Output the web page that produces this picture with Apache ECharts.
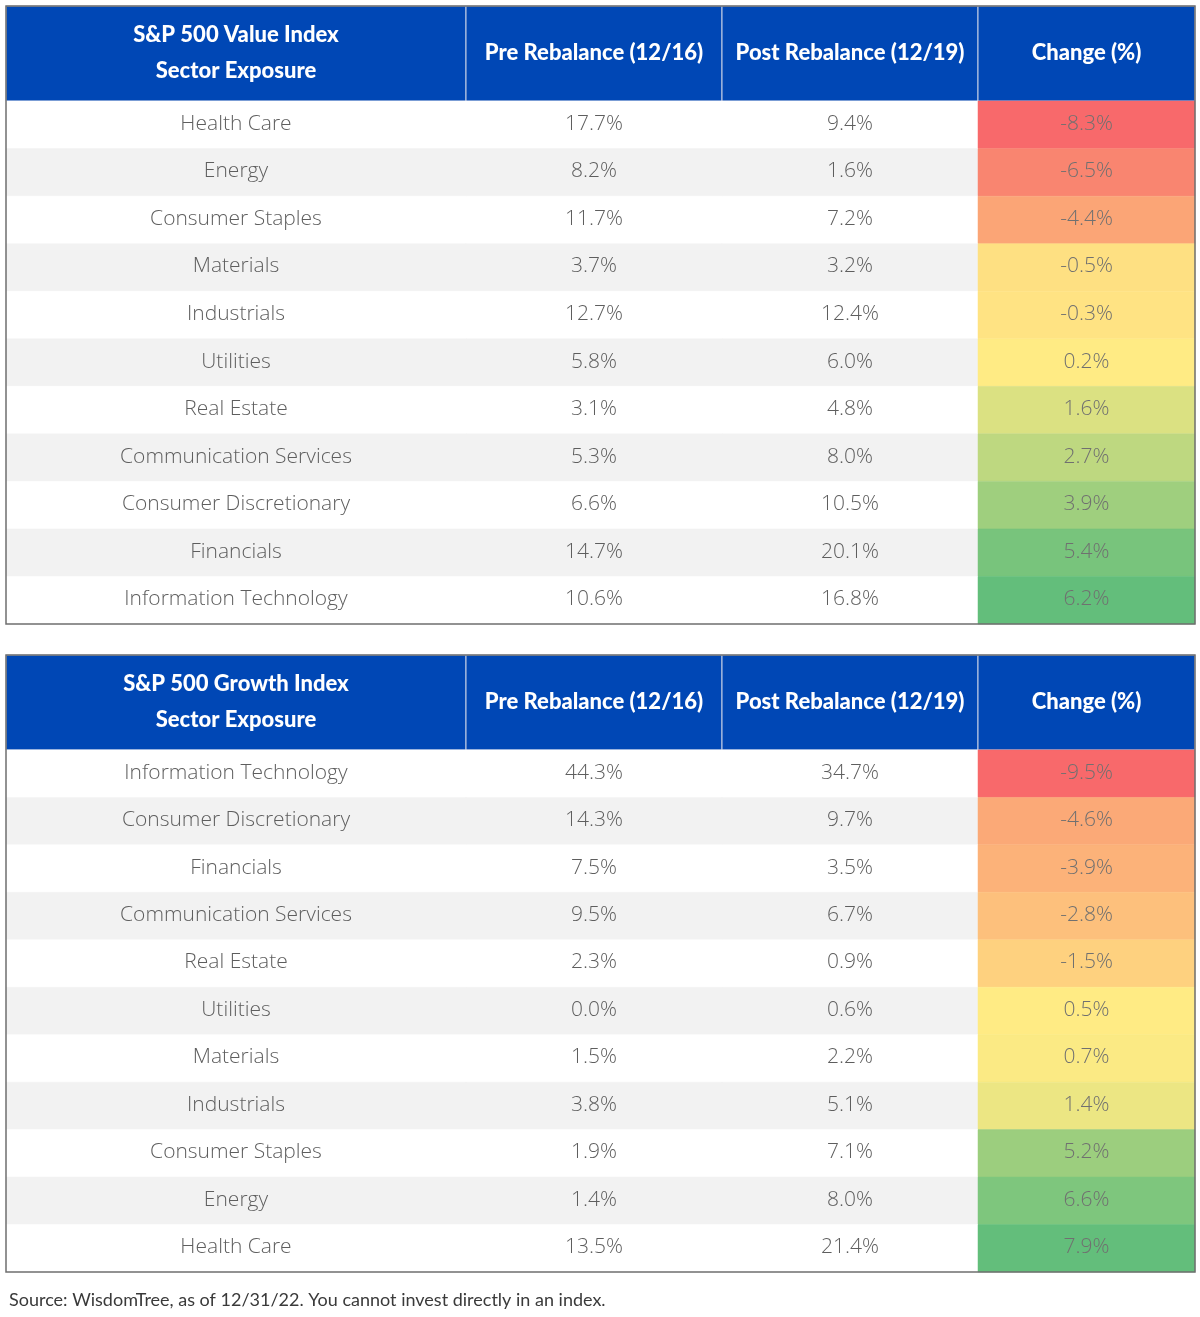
<!DOCTYPE html>
<html>
<head>
<meta charset="utf-8">
<script src="https://cdn.jsdelivr.net/npm/echarts@6/dist/echarts.min.js"></script>
<style>html,body{margin:0;padding:0;background:#fff;}#main{width:1200px;height:1317px;}</style>
</head>
<body>
<div id="main"></div>
<script>
// ---- Data ----
const columnHeaders = ['Pre Rebalance (12/16)', 'Post Rebalance (12/19)', 'Change (%)'];
const valueTitle = 'S&P 500 Value Index\nSector Exposure';
const valueSectors = ['Health Care','Energy','Consumer Staples','Materials','Industrials','Utilities','Real Estate','Communication Services','Consumer Discretionary','Financials','Information Technology'];
const valuePre  = [17.7, 8.2, 11.7, 3.7, 12.7, 5.8, 3.1, 5.3, 6.6, 14.7, 10.6];
const valuePost = [9.4, 1.6, 7.2, 3.2, 12.4, 6.0, 4.8, 8.0, 10.5, 20.1, 16.8];
const valueChange = [-8.3, -6.5, -4.4, -0.5, -0.3, 0.2, 1.6, 2.7, 3.9, 5.4, 6.2];

const growthTitle = 'S&P 500 Growth Index\nSector Exposure';
const growthSectors = ['Information Technology','Consumer Discretionary','Financials','Communication Services','Real Estate','Utilities','Materials','Industrials','Consumer Staples','Energy','Health Care'];
const growthPre  = [44.3, 14.3, 7.5, 9.5, 2.3, 0.0, 1.5, 3.8, 1.9, 1.4, 13.5];
const growthPost = [34.7, 9.7, 3.5, 6.7, 0.9, 0.6, 2.2, 5.1, 7.1, 8.0, 21.4];
const growthChange = [-9.5, -4.6, -3.9, -2.8, -1.5, 0.5, 0.7, 1.4, 5.2, 6.6, 7.9];

const sourceText = 'Source: WisdomTree, as of 12/31/22. You cannot invest directly in an index.';

// ---- Layout / style ----
const colEdges = [0, 460, 716, 972, 1189];
const HEADER_BLUE = '#0047B5';
const RED = [248,105,107], YEL = [255,235,132], GRN = [99,190,123];

function mix(a, b, t) {
  return 'rgb(' + a.map((v, i) => Math.round(v + (b[i] - v) * t)).join(',') + ')';
}
function scaleColors(vals) {
  const s = vals.slice().sort((a, b) => a - b);
  const min = s[0], max = s[s.length - 1];
  const n = s.length;
  const med = n % 2 ? s[(n - 1) / 2] : (s[n / 2 - 1] + s[n / 2]) / 2;
  return vals.map(v => {
    if (v <= med) return mix(RED, YEL, med === min ? 1 : (v - min) / (med - min));
    return mix(YEL, GRN, (v - med) / (max - med));
  });
}
const fmt = v => v.toFixed(1) + '%';

function buildItems(title, sectors, pre, post, change) {
  const items = [];
  const cc = scaleColors(change);
  [title].concat(columnHeaders).forEach((t, c) => {
    items.push({ value: [c, -1], kind: 'header', text: t, fill: HEADER_BLUE });
  });
  sectors.forEach((s, r) => {
    const bg = r % 2 === 0 ? '#FFFFFF' : '#F2F2F2';
    items.push({ value: [0, r], kind: 'body', text: s, fill: bg });
    items.push({ value: [1, r], kind: 'body', text: fmt(pre[r]), fill: bg });
    items.push({ value: [2, r], kind: 'body', text: fmt(post[r]), fill: bg });
    items.push({ value: [3, r], kind: 'change', text: fmt(change[r]), fill: cc[r] });
  });
  items.push({ value: [0, -2], kind: 'frame' });
  return items;
}

const tables = [
  buildItems(valueTitle, valueSectors, valuePre, valuePost, valueChange),
  buildItems(growthTitle, growthSectors, growthPre, growthPost, growthChange)
];

function makeRender(items) {
  return function (params, api) {
    const it = items[params.dataIndex];
    const c = api.value(0), r = api.value(1);
    if (it.kind === 'frame') {
      const a = api.coord([colEdges[0], 0]);
      const b = api.coord([colEdges[colEdges.length - 1], 13]);
      return { type: 'rect', shape: { x: a[0], y: a[1], width: b[0] - a[0], height: b[1] - a[1] },
        style: { fill: 'none', stroke: '#6f6f6f', lineWidth: 1.5 }, z2: 100 };
    }
    const y0 = r < 0 ? 0 : r + 2, y1 = r < 0 ? 2 : r + 3;
    const p0 = api.coord([colEdges[c], y0]);
    const p1 = api.coord([colEdges[c + 1], y1]);
    const w = p1[0] - p0[0], h = p1[1] - p0[1];
    const isHeader = it.kind === 'header';
    const children = [{
      type: 'rect', shape: { x: p0[0], y: p0[1], width: w, height: h },
      style: { fill: it.fill, stroke: isHeader ? '#C9D2E6' : it.fill, lineWidth: isHeader ? 1 : 0.5 }
    }, {
      type: 'text',
      style: {
        x: p0[0] + w / 2, y: p0[1] + h / 2 - 1,
        text: it.text, align: 'center', verticalAlign: 'middle',
        fill: isHeader ? '#FFFFFF' : (it.kind === 'change' ? '#707070' : '#5e5e5e'),
        font: isHeader ? '900 22px Lato' : '300 21px "Open Sans"',
        lineHeight: 36
      }
    }];
    return { type: 'group', children };
  };
}

const chart = echarts.init(document.getElementById('main'), null, { renderer: 'canvas' });
const grids = [
  { left: 6, top: 6, width: 1189, height: 618 },
  { left: 6, top: 655, width: 1189, height: 617 }
];
chart.setOption({
  backgroundColor: '#FFFFFF',
  animation: false,
  title: {
    text: sourceText, left: 4, top: 1286,
    textStyle: { fontFamily: 'Lato', fontSize: 18, fontWeight: 'normal', color: '#3a3a3a' }
  },
  grid: grids,
  xAxis: grids.map((g, i) => ({ type: 'value', gridIndex: i, min: 0, max: 1189, show: false })),
  yAxis: grids.map((g, i) => ({ type: 'value', gridIndex: i, min: 0, max: 13, inverse: true, show: false })),
  series: tables.map((items, i) => ({
    type: 'custom',
    xAxisIndex: i, yAxisIndex: i,
    renderItem: makeRender(items),
    data: items.map(it => it.value),
    silent: true,
    clip: false
  }))
});
</script>
</body>
</html>
